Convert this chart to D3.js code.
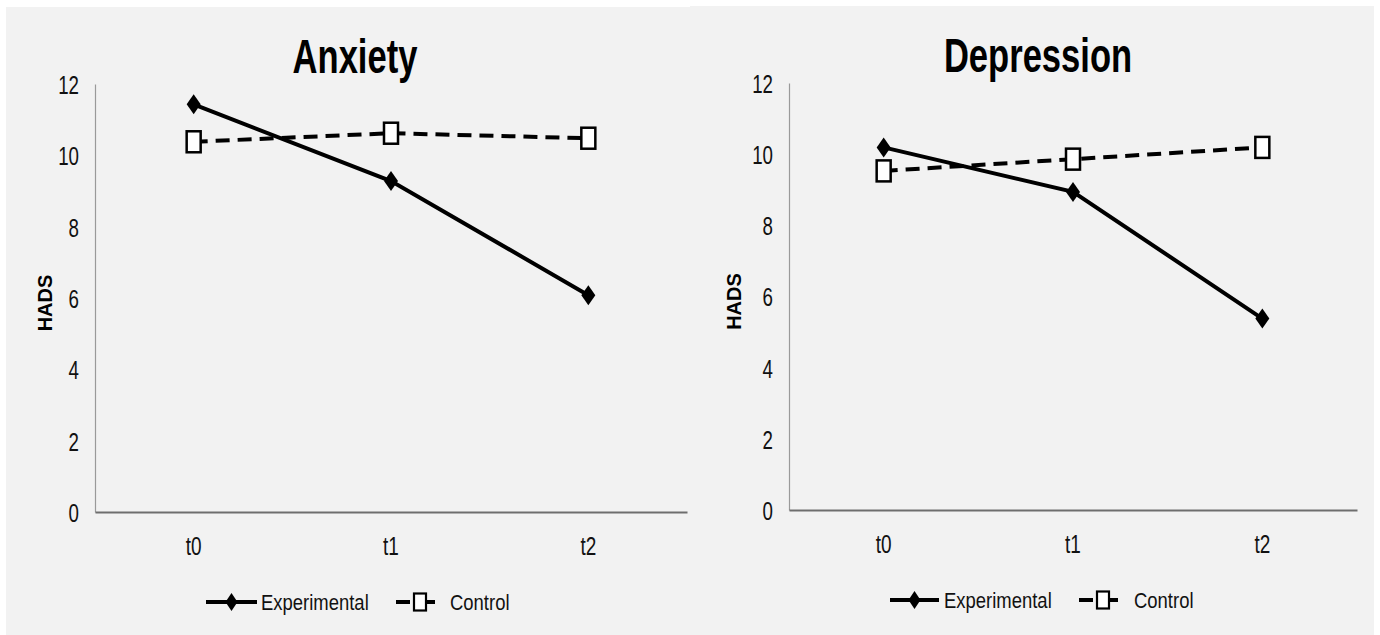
<!DOCTYPE html>
<html>
<head>
<meta charset="utf-8">
<script src="https://cdn.jsdelivr.net/npm/d3@7"></script>
<style>
html,body{margin:0;padding:0;background:#fff;}
svg{display:block;}
</style>
</head>
<body>
<svg id="chart" width="1380" height="635"></svg>
<script>
// ---- data ----
const categories = ["t0", "t1", "t2"];
const yTicks = [0, 2, 4, 6, 8, 10, 12];
const seriesNames = ["Experimental", "Control"];
const titles = ["Anxiety", "Depression"];
const yLabel = "HADS";
const anxietyExperimental = [11.43, 9.28, 6.08];
const anxietyControl = [10.38, 10.62, 10.48];
const depressionExperimental = [10.19, 8.94, 5.38];
const depressionControl = [9.53, 9.86, 10.19];

// ---- layout ----
const panels = [
  {title: titles[0], exp: anxietyExperimental, ctl: anxietyControl,
   bgX: 6, bgY: 7, bgW: 684, plotL: 95, plotR: 687, yTop: 84, yBot: 512,
   titleX: 355, titleY: 73, ylabX: 52, legLine: [206, 257], legText1: 261,
   legCtl: [396, 435], legText2: 450, legY: 602},
  {title: titles[1], exp: depressionExperimental, ctl: depressionControl,
   bgX: 690, bgY: 6, bgW: 684, plotL: 789, plotR: 1357, yTop: 83, yBot: 510,
   titleX: 1038, titleY: 72, ylabX: 741, legLine: [890, 939], legText1: 944,
   legCtl: [1079, 1118], legText2: 1134, legY: 600}
];

const FONT = "'Liberation Sans',Arial,sans-serif";
const svg = d3.select("#chart");
svg.append("rect").attr("width", 1380).attr("height", 635).attr("fill", "#ffffff");

function diamondPath(w, h) {
  return `M0,${-h}L${w},0L0,${h}L${-w},0Z`;
}
// horizontally condense text around its own anchor (x attribute)
function squeeze(sel, s) {
  sel.each(function() {
    const t = d3.select(this);
    const x0 = +(t.attr("x") || 0);
    t.attr("x", x0 / s).attr("transform", `scale(${s},1)`);
  });
}

panels.forEach(p => {
  svg.append("rect").attr("x", p.bgX).attr("y", p.bgY)
    .attr("width", p.bgW).attr("height", 635 - p.bgY).attr("fill", "#f2f2f2");

  const x = d3.scaleBand().domain(categories).range([p.plotL, p.plotR]).padding(0);
  const cx = c => x(c) + x.bandwidth() / 2;
  const y = d3.scaleLinear().domain([0, 12]).range([p.yBot, p.yTop]);

  // y axis
  const ya = svg.append("g").attr("transform", `translate(${p.plotL},0)`)
    .call(d3.axisLeft(y).tickValues(yTicks).tickSize(0).tickPadding(16).tickFormat(d3.format("d")));
  ya.select(".domain").attr("stroke", "#9a9a9a").attr("stroke-width", 1.2);
  ya.selectAll("text").attr("font-family", FONT).attr("font-size", 26).attr("fill", "#111")
    .attr("dy", "0.36em").call(squeeze, 0.72);

  // x axis
  const xa = svg.append("g").attr("transform", `translate(0,${p.yBot})`)
    .call(d3.axisBottom(x).tickSize(0).tickPadding(25));
  xa.select(".domain").attr("stroke", "#6e6e6e").attr("stroke-width", 2);
  xa.selectAll("text").attr("font-family", FONT).attr("font-size", 25).attr("fill", "#111")
    .call(squeeze, 0.76);

  // title
  svg.append("text").attr("transform", `translate(${p.titleX},${p.titleY}) scale(0.72,1)`)
    .attr("text-anchor", "middle").attr("font-family", FONT).attr("font-weight", "bold")
    .attr("font-size", 48).attr("fill", "#000").text(p.title);

  // y label
  svg.append("text").attr("transform", `translate(${p.ylabX},${(p.yTop + p.yBot) / 2 + 5}) rotate(-90)`)
    .attr("text-anchor", "middle").attr("font-family", FONT)
    .attr("font-weight", "bold").attr("font-size", 20).attr("fill", "#000").text(yLabel);

  const line = d3.line().x((d, i) => cx(categories[i])).y(d => y(d));

  // control (dashed)
  svg.append("path").datum(p.ctl).attr("d", line).attr("fill", "none")
    .attr("stroke", "#000").attr("stroke-width", 4).attr("stroke-dasharray", "14,8");
  // experimental (solid)
  svg.append("path").datum(p.exp).attr("d", line).attr("fill", "none")
    .attr("stroke", "#000").attr("stroke-width", 4);

  svg.append("g").selectAll("path").data(p.exp).join("path")
    .attr("transform", (d, i) => `translate(${cx(categories[i])},${y(d)})`)
    .attr("d", diamondPath(7, 10)).attr("fill", "#000");

  svg.append("g").selectAll("rect").data(p.ctl).join("rect")
    .attr("x", (d, i) => cx(categories[i]) - 7).attr("y", d => y(d) - 10.5)
    .attr("width", 14).attr("height", 21).attr("fill", "#fff")
    .attr("stroke", "#000").attr("stroke-width", 2.5);

  // legend
  const lg = svg.append("g");
  lg.append("line").attr("x1", p.legLine[0]).attr("x2", p.legLine[1])
    .attr("y1", p.legY).attr("y2", p.legY).attr("stroke", "#000").attr("stroke-width", 4);
  lg.append("path").attr("transform", `translate(${(p.legLine[0] + p.legLine[1]) / 2},${p.legY})`)
    .attr("d", diamondPath(6, 9)).attr("fill", "#000");
  lg.append("text").attr("x", p.legText1).attr("y", p.legY + 8)
    .attr("font-family", FONT).attr("font-size", 22).attr("fill", "#111").text(seriesNames[0])
    .call(squeeze, 0.84);
  lg.append("line").attr("x1", p.legCtl[0]).attr("x2", p.legCtl[1])
    .attr("y1", p.legY).attr("y2", p.legY).attr("stroke", "#000").attr("stroke-width", 4)
    .attr("stroke-dasharray", "14,4,100");
  const sqc = p.legCtl[0] + 24;
  lg.append("rect").attr("x", sqc - 6).attr("y", p.legY - 8.5).attr("width", 12).attr("height", 17)
    .attr("fill", "#fff").attr("stroke", "#000").attr("stroke-width", 2.2);
  lg.append("text").attr("x", p.legText2).attr("y", p.legY + 8)
    .attr("font-family", FONT).attr("font-size", 22).attr("fill", "#111").text(seriesNames[1])
    .call(squeeze, 0.84);
});
</script>
</body>
</html>
